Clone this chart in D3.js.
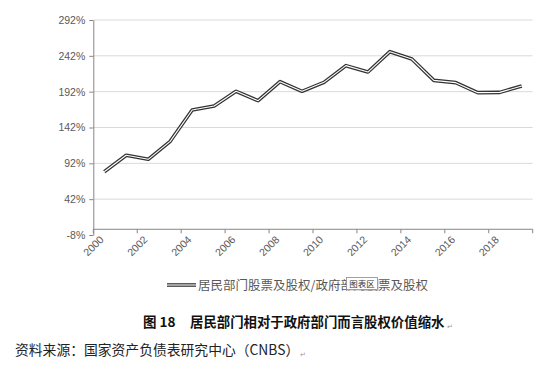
<!DOCTYPE html>
<html><head><meta charset="utf-8">
<script src="https://cdn.jsdelivr.net/npm/d3@7/dist/d3.min.js"></script>
<style>
html,body{margin:0;padding:0;background:#fff;}
svg{display:block;}
</style></head>
<body><svg id="c" width="550" height="369"></svg>
<script>
const years = ["2000","2001","2002","2003","2004","2005","2006","2007","2008","2009","2010","2011","2012","2013","2014","2015","2016","2017","2018","2019"];
const ratio = [80.3,103.2,97.6,122.7,166.4,172,192.5,179.4,206,192.5,205,228.3,219.4,247.8,237.6,207.8,204.6,190.6,191,200];
const yTicks = [-8,42,92,142,192,242,292];
const xLabels = ["2000","2002","2004","2006","2008","2010","2012","2014","2016","2018"];
const seriesName = "居民部门股票及股权/政府部门股票及股权";
const captionNum = "图 18";
const captionTitle = "居民部门相对于政府部门而言股权价值缩水";
const sourceText = "资料来源：国家资产负债表研究中心（CNBS）";

(function(){
const svg = d3.select("#c");
svg.append("rect").attr("width",550).attr("height",369).attr("fill","#fff");

const mLeft = 93.3, mRight = 532.7, mTop = 20, mBottom = 235;
const x = d3.scaleBand().domain(years).range([mLeft, mRight]).padding(0);
const y = d3.scaleLinear().domain([-8, 292]).range([mBottom, mTop]);
const font = "'Liberation Sans', Arial, sans-serif";
const cjk = "'Noto Sans CJK SC', sans-serif";

// gridlines
svg.append("g").selectAll("line").data(yTicks.filter(d => d > -8)).join("line")
  .attr("x1", mLeft).attr("x2", mRight)
  .attr("y1", d => y(d)).attr("y2", d => y(d))
  .attr("stroke", "#d9d9d9").attr("stroke-width", 1);

// y axis
const yAxis = d3.axisLeft(y).tickValues(yTicks).tickFormat(d => d + "%").tickSizeInner(4).tickSizeOuter(0).tickPadding(4);
const gy = svg.append("g").attr("transform", `translate(${mLeft},0)`).call(yAxis);
gy.select(".domain").attr("stroke", "#868686");
gy.selectAll(".tick line").attr("stroke", "#868686");
gy.selectAll("text").attr("fill", "#595959").attr("font-size", 10.5).attr("font-family", font);

// x axis at 0%
const y0 = y(0);
const gx = svg.append("g").attr("transform", `translate(0,${y0})`);
gx.append("line").attr("x1", mLeft).attr("x2", mRight).attr("y1", 0).attr("y2", 0).attr("stroke", "#868686");
const bounds = years.filter((d,i) => i % 2 === 0).map(d => x(d)).concat([mRight]);
gx.selectAll("line.tk").data(bounds).join("line").attr("class","tk")
  .attr("x1", d => d).attr("x2", d => d).attr("y1", 0).attr("y2", 4).attr("stroke", "#868686");
gx.selectAll("text").data(xLabels).join("text")
  .attr("transform", d => `translate(${x(d) + x.bandwidth()/2},${11}) rotate(-45)`)
  .attr("text-anchor", "end")
  .attr("fill", "#595959").attr("font-size", 10.5).attr("font-family", font)
  .text(d => d);

// line (compound: dark outer, white inner)
const line = d3.line().x((d,i) => x(years[i]) + x.bandwidth()/2).y(d => y(d));
svg.append("path").datum(ratio).attr("d", line).attr("fill","none")
  .attr("stroke", "#333").attr("stroke-width", 3.6).attr("stroke-linejoin","round");
svg.append("path").datum(ratio).attr("d", line).attr("fill","none")
  .attr("stroke", "#fff").attr("stroke-width", 1.1).attr("stroke-linejoin","round");

// legend
const lg = svg.append("g");
lg.append("line").attr("x1",167).attr("x2",196).attr("y1",285).attr("y2",285).attr("stroke","#333").attr("stroke-width",3.6);
lg.append("line").attr("x1",167).attr("x2",196).attr("y1",285).attr("y2",285).attr("stroke","#fff").attr("stroke-width",1.1);
lg.append("text").attr("x",198).attr("y",289.5).attr("fill","#595959").attr("font-size",12.5)
  .attr("font-family",cjk).text(seriesName);

// tooltip
const tt = svg.append("g");
tt.append("rect").attr("x",348).attr("y",279).attr("width",31).attr("height",12).attr("fill","#bbb").attr("opacity",0.5);
tt.append("rect").attr("x",346.5).attr("y",277.5).attr("width",31).attr("height",12).attr("fill","#fff").attr("stroke","#8c8c8c").attr("stroke-width",0.8);
tt.append("text").attr("x",362).attr("y",286.5).attr("text-anchor","middle").attr("font-size",8.5).attr("fill","#333")
  .attr("font-family",cjk).text("图表区");

// caption
svg.append("text").attr("x",143).attr("y",327).attr("font-size",13.5).attr("font-weight","bold").attr("fill","#111")
  .attr("font-family",cjk).text(captionNum);
svg.append("text").attr("x",190).attr("y",327).attr("font-size",13.4).attr("font-weight","bold").attr("fill","#111")
  .attr("font-family",cjk).text(captionTitle);
svg.append("text").attr("x",447).attr("y",329).attr("font-size",7).attr("fill","#999").attr("font-family",font).text("↵");
svg.append("text").attr("x",15).attr("y",355).attr("font-size",13.8).attr("fill","#222")
  .attr("font-family",cjk).text(sourceText);
svg.append("text").attr("x",300).attr("y",357).attr("font-size",7).attr("fill","#999").attr("font-family",font).text("↵");
})();
</script></body></html>
